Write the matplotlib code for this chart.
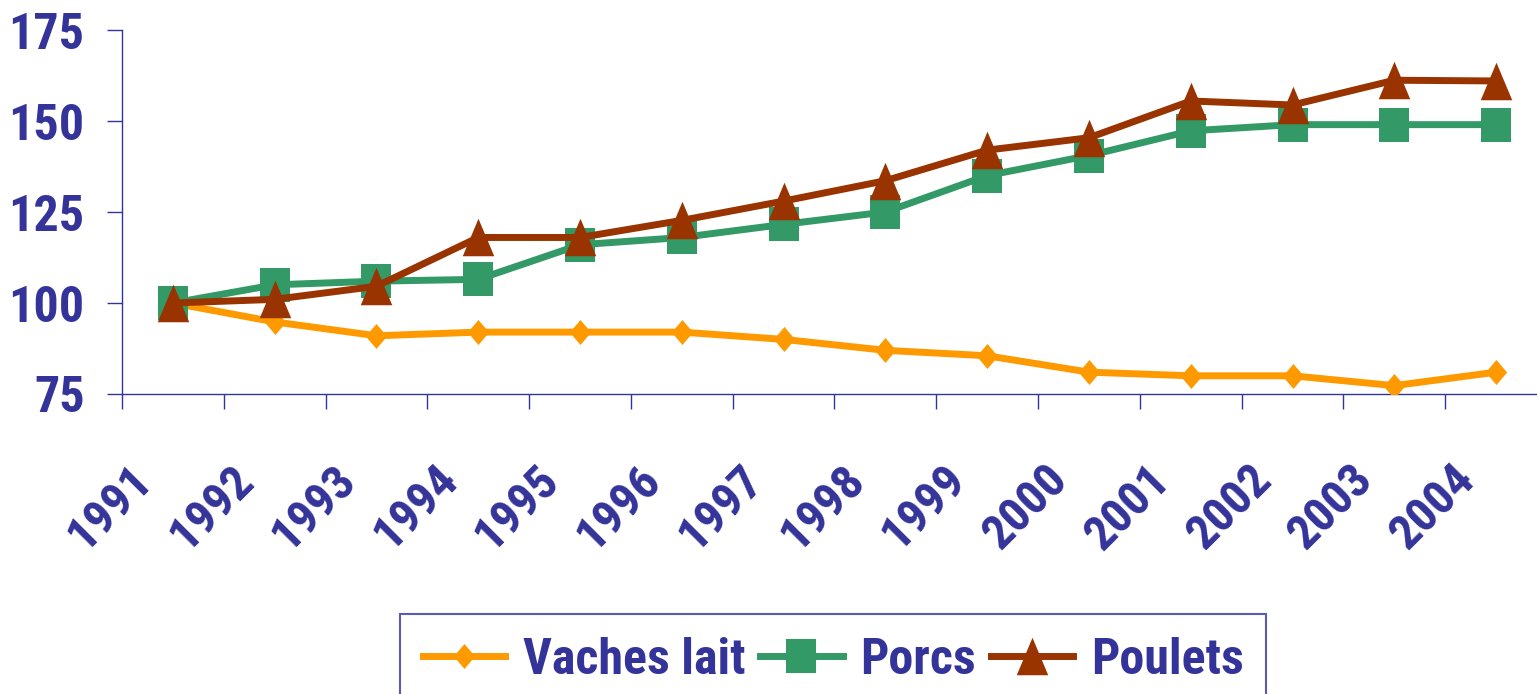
import matplotlib
matplotlib.use("Agg")
import matplotlib.pyplot as plt
import numpy as np
from matplotlib.transforms import ScaledTranslation

years = ["1991", "1992", "1993", "1994", "1995", "1996", "1997",
         "1998", "1999", "2000", "2001", "2002", "2003", "2004"]
vaches_lait = [100, 94.8, 91, 92, 92, 92, 90, 87, 85.5, 81, 80, 80, 77.3, 81]
porcs = [100, 105, 106, 106.5, 116, 118, 121.6, 125, 135, 140.5, 147.3, 149, 149, 149]
poulets = [100, 101, 104.6, 118, 118, 122.7, 128, 133.6, 142, 145.4, 155.5, 154.4, 161.2, 161]

TEXT = "#333399"
# Arial Narrow Bold isn't around; Roboto Condensed is the closest fit
plt.rcParams["font.family"] = ["Roboto Condensed", "Liberation Sans", "DejaVu Sans"]
plt.rcParams["font.weight"] = "bold"

# slightly taller-than-wide markers, like the original chart
diamond = [(0, 1), (0.85, 0), (0, -1), (-0.85, 0)]
square = [(-0.88, -1), (0.88, -1), (0.88, 1), (-0.88, 1)]
triangle = [(0, 1), (-0.84, -1), (0.84, -1)]

fig = plt.figure(figsize=(15.37, 6.94), dpi=100)
ax = fig.add_axes([122 / 1537, 300 / 694, 1425 / 1537, 364 / 694])

x = np.arange(len(years))
ax.plot(x, vaches_lait, color="#FF9900", lw=5, marker=diamond, ms=18,
        mew=0, label="Vaches lait", zorder=3)
ax.plot(x, porcs, color="#339966", lw=5, marker=square, ms=24,
        mew=0, label="Porcs", zorder=4)
ax.plot(x, poulets, color="#993300", lw=5, marker=triangle, ms=27,
        mew=0, label="Poulets", zorder=5)

ax.set_xlim(-0.5, len(years) - 0.5)
ax.set_ylim(75, 175)
ax.set_yticks([75, 100, 125, 150, 175])
ax.tick_params(axis="y", length=11, width=1, color=TEXT, pad=16,
               labelsize=36, labelcolor=TEXT)

# tick marks sit between categories, labels at the category centres
ax.set_xticks(np.arange(len(years)) - 0.5)
ax.set_xticklabels([])
ax.tick_params(axis="x", which="major", length=11, width=1, color=TEXT)
ax.set_xticks(x, minor=True)
ax.set_xticklabels(years, minor=True, rotation=45, ha="right", va="top")
ax.tick_params(axis="x", which="minor", length=0, pad=45,
               labelsize=35, labelcolor=TEXT)
offset = ScaledTranslation(-12 / 100, 0, fig.dpi_scale_trans)
for lab in ax.get_xticklabels(minor=True):
    lab.set_transform(lab.get_transform() + offset)

for side in ("top", "right"):
    ax.spines[side].set_visible(False)
for side in ("left", "bottom"):
    ax.spines[side].set_color(TEXT)
    ax.spines[side].set_linewidth(1)

leg = fig.legend(loc="upper center", bbox_to_anchor=(833 / 1537, 1 - 614 / 694),
                 ncol=3, fontsize=36, frameon=True, fancybox=False,
                 handlelength=1.65, handletextpad=0.35, columnspacing=0.3,
                 borderpad=0.45, borderaxespad=0)
leg.get_frame().set_edgecolor(TEXT)
leg.get_frame().set_linewidth(1.5)
for t in leg.get_texts():
    t.set_color(TEXT)

fig.savefig("out.png", dpi=100)
